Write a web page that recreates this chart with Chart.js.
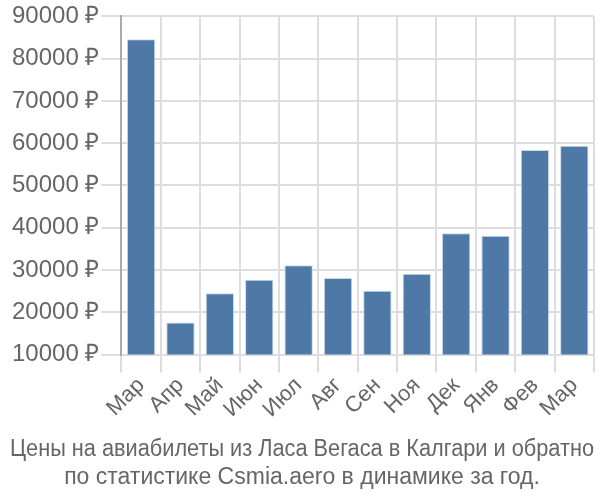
<!DOCTYPE html>
<html><head><meta charset="utf-8">
<script src="https://cdn.jsdelivr.net/npm/chart.js@4/dist/chart.umd.min.js"></script>
<style>html,body{margin:0;padding:0;background:#fff}#w{width:600px;height:500px}</style>
</head><body><div id="w"><canvas id="c" width="600" height="500"></canvas></div>
<script>
const categories = ["Мар","Апр","Май","Июн","Июл","Авг","Сен","Ноя","Дек","Янв","Фев","Мар"];
const prices = [84600,17600,24500,27700,31100,28100,25100,29100,38700,38100,58400,59400];
const titleLines = ["Цены на авиабилеты из Ласа Вегаса в Калгари и обратно","по статистике Csmia.aero в динамике за год."];
const font = "'Liberation Sans', Arial, sans-serif";
new Chart(document.getElementById('c'), {
  type: 'bar',
  data: { labels: categories, datasets: [{ data: prices, backgroundColor: '#4e79a7', borderColor: '#c9d7e8', borderWidth: 1, barPercentage: 0.72, categoryPercentage: 1 }] },
  options: {
    responsive: false, animation: false,
    layout: { padding: { left: 10, right: 6, top: 8, bottom: 3 } },
    plugins: { legend: { display: false }, tooltip: { enabled: false },
      title: { display: true, position: 'bottom', text: titleLines, color: '#666', font: { family: font, size: 23, weight: 'normal' }, padding: { top: 13, bottom: 6 }, lineHeight: 1.2 } },
    scales: {
      x: { grid: { color: '#dddddd', lineWidth: 2, tickLength: 18, offset: true }, border: { color: '#dddddd' },
        ticks: { autoSkip: false, color: '#666', font: { family: font, size: 22 }, maxRotation: 45, minRotation: 45, padding: 0 } },
      y: { min: 10000, max: 90000, grid: { color: '#dddddd', lineWidth: 2, tickLength: 20 }, border: { color: '#aaaaaa', width: 2 },
        ticks: { stepSize: 10000, color: '#666', font: { family: font, size: 24 }, padding: 2, callback: v => v + ' ₽' } }
    }
  }
});
</script></body></html>
